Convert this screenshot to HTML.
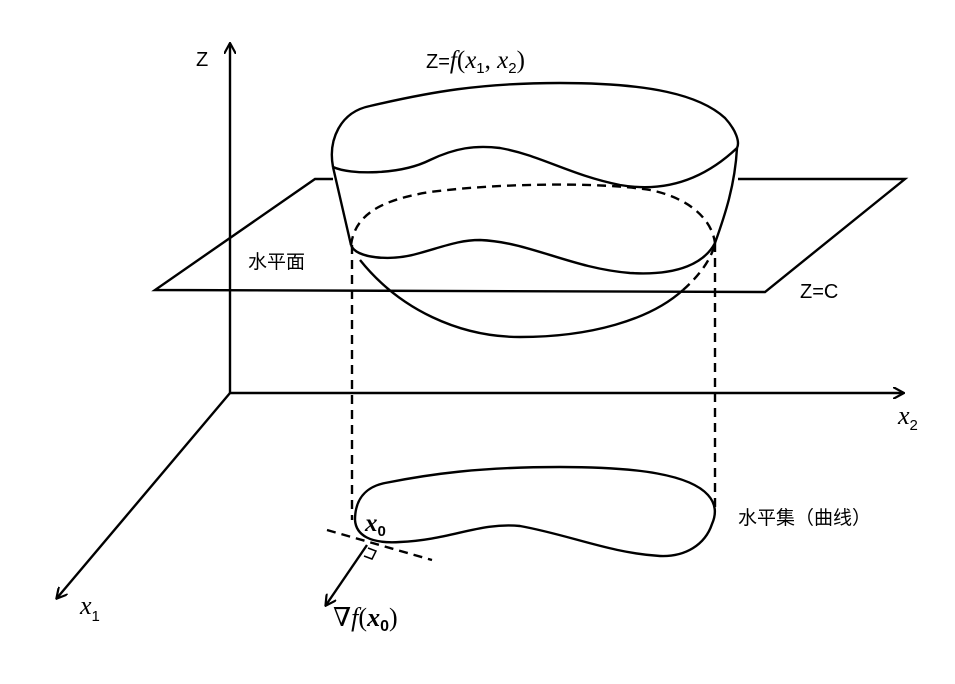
<!DOCTYPE html>
<html><head><meta charset="utf-8"><style>
html,body{margin:0;padding:0;background:#fff;}
svg{display:block;}
text{font-family:"Liberation Sans","Noto Sans CJK SC",sans-serif;fill:#000;}
.m{font-family:"Liberation Serif","DejaVu Serif",serif;font-style:italic;}
.r{font-family:"Liberation Serif","DejaVu Serif",serif;}
</style></head><body>
<svg width="955" height="684" viewBox="0 0 955 684" xmlns="http://www.w3.org/2000/svg">
<defs>
<marker id="ah" markerWidth="12" markerHeight="12" refX="10" refY="6" orient="auto" markerUnits="userSpaceOnUse">
<path d="M0,0 L11,6 L0,12" fill="none" stroke="#000" stroke-width="2.2"/>
</marker>
</defs>
<g stroke="#000" stroke-width="2.4" fill="none">
<line x1="230" y1="393" x2="230" y2="44" marker-end="url(#ah)"/>
<line x1="230" y1="393" x2="903" y2="393" marker-end="url(#ah)"/>
<line x1="230" y1="393" x2="57" y2="598" marker-end="url(#ah)"/>
<polyline points="333,179 315,179 155,290 765,292 905,179 738,179"/>
<path d="M333,167 C328,140 340,112 370,106 C430,92 480,83 560,83 C650,83 700,95 725,118 C736,130 740,142 737,148"/>
<path d="M333,167 C350,175 400,175 430,160 C455,148 475,145 500,148 C540,155 570,175 620,185 C660,192 700,183 737,148"/>
<path d="M333,167 L351,245"/>
<path d="M737,148 C735,185 725,215 715,243"/>
<path d="M351,245 C355,258 390,262 420,253 C445,246 460,240 480,240 C530,242 570,268 630,273 C680,276 705,262 715,243"/>
<path d="M360,260 C400,310 460,337 520,337 C590,337 650,320 683,290"/>
<g stroke-dasharray="9,6">
<path d="M351,245 C355,215 380,200 430,192 C500,183 600,182 650,190 C690,198 712,220 715,243"/>
<path d="M683,290 C700,275 712,258 715,243"/>
<line x1="352" y1="245" x2="352" y2="520"/>
<line x1="715" y1="243" x2="715" y2="512"/>
<line x1="327" y1="530" x2="432" y2="560"/>
</g>
<path d="M355,520 C355,500 365,487 385,483 C430,474 480,467 560,467 C640,467 690,475 708,495 C717,505 716,515 712,524 C705,545 685,557 660,556 C610,553 570,535 520,526 C480,522 450,540 400,542 C370,544 356,535 355,520"/>
<line x1="367" y1="545" x2="326" y2="605" marker-end="url(#ah)"/>
<path d="M368,548 L376,551 L372,559 L364,556" stroke-width="1.5"/>
</g>
<text x="196" y="66" font-size="20">Z</text>
<text x="426" y="68" font-size="20">Z=<tspan class="m" font-size="25">f</tspan><tspan class="r" font-size="25">(</tspan><tspan class="m" font-size="25">x</tspan><tspan font-size="15" dy="5">1</tspan><tspan class="r" font-size="25" dy="-5">, </tspan><tspan class="m" font-size="25">x</tspan><tspan font-size="15" dy="5">2</tspan><tspan class="r" font-size="25" dy="-5">)</tspan></text>
<text x="248" y="268" font-size="19">水平面</text>
<text x="800" y="298" font-size="20">Z=C</text>
<text x="898" y="424" font-size="26"><tspan class="m">x</tspan><tspan font-size="15" dy="6">2</tspan></text>
<text x="738" y="524" font-size="19">水平集（曲线）</text>
<text x="365" y="531" font-size="25" font-weight="bold"><tspan class="m">x</tspan><tspan font-size="15" dy="5">0</tspan></text>
<text x="333" y="626" font-size="26"><tspan class="r">∇</tspan><tspan class="m">f</tspan><tspan class="r">(</tspan><tspan class="m" font-weight="bold">x</tspan><tspan font-size="16" font-weight="bold" dy="5">0</tspan><tspan class="r" dy="-5">)</tspan></text>
<text x="80" y="614" font-size="26"><tspan class="m">x</tspan><tspan font-size="15" dy="7">1</tspan></text>
</svg>
</body></html>
